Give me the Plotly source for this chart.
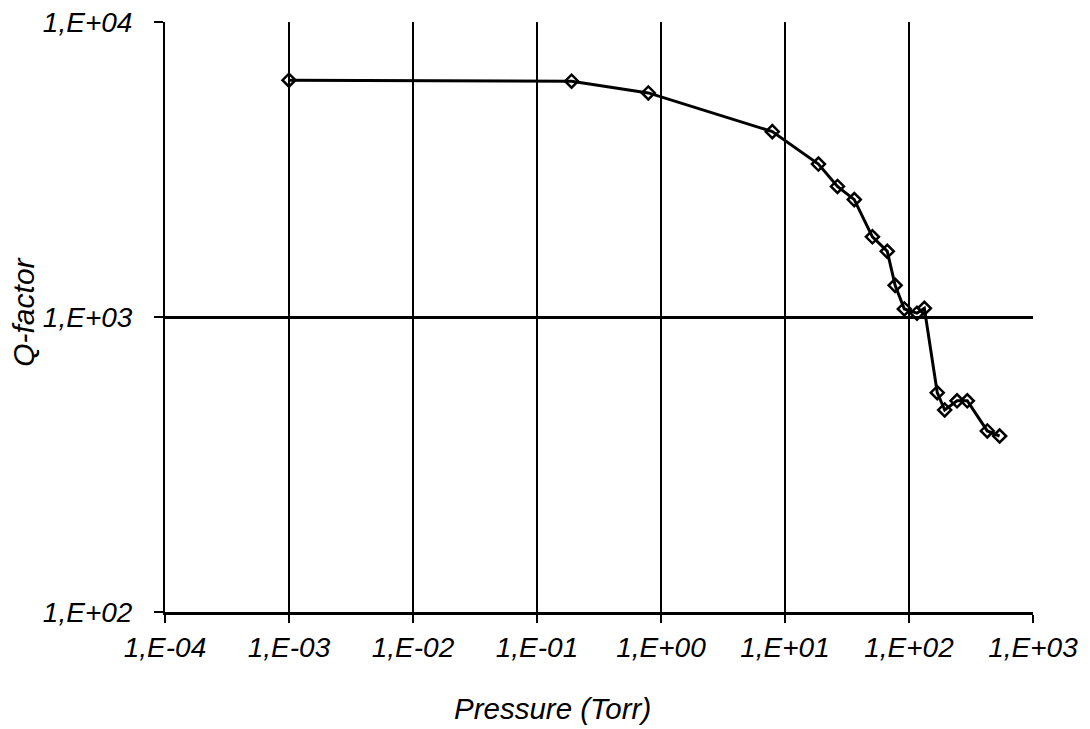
import plotly.graph_objects as go

pressure_torr = [0.001, 0.19, 0.79, 7.9, 18.6, 26.5, 36.2, 50.7, 66.8, 77.3, 91.7,
                 116, 133, 169, 194, 244, 295, 428, 538]
q_factor = [6350, 6300, 5750, 4250, 3300, 2770, 2500, 1870, 1670, 1280, 1065,
            1030, 1070, 554, 484, 520, 520, 411, 395]

x_tickvals = [1e-4, 1e-3, 1e-2, 1e-1, 1e0, 1e1, 1e2, 1e3]
x_ticktext = ["1,E-04", "1,E-03", "1,E-02", "1,E-01", "1,E+00", "1,E+01", "1,E+02", "1,E+03"]
y_tickvals = [1e2, 1e3, 1e4]
y_ticktext = ["1,E+02", "1,E+03", "1,E+04"]

x_title = "Pressure (Torr)"
y_title = "Q-factor"

FONT = "Liberation Sans, Arial, sans-serif"

fig = go.Figure()
fig.add_trace(go.Scatter(
    x=pressure_torr, y=q_factor, mode="lines+markers",
    line=dict(color="black", width=3),
    marker=dict(symbol="diamond-open", size=10, color="black", line=dict(color="black", width=2.5)),
    showlegend=False,
))

fig.update_layout(
    width=1090, height=729,
    margin=dict(l=165, r=57, t=22, b=117),
    paper_bgcolor="white", plot_bgcolor="white",
    font=dict(family=FONT, color="black"),
    xaxis=dict(
        type="log", range=[-4, 3], automargin=False,
        tickvals=x_tickvals, ticktext=x_ticktext,
        tickfont=dict(size=28, family=FONT, style="italic", color="black"),
        ticks="outside", ticklen=8, tickwidth=2, tickcolor="black",
        ticklabelstandoff=0,
        showgrid=True, gridcolor="black", gridwidth=2,
        showline=True, linecolor="black", linewidth=3,
        zeroline=False,
    ),
    yaxis=dict(
        type="log", range=[2, 4], automargin=False,
        tickvals=y_tickvals, ticktext=y_ticktext,
        tickfont=dict(size=28, family=FONT, style="italic", color="black"),
        ticks="outside", ticklen=9, tickwidth=2, tickcolor="black",
        ticklabelstandoff=16,
        showgrid=True, gridcolor="black", gridwidth=2.5,
        showline=True, linecolor="black", linewidth=2,
        zeroline=False,
    ),
    annotations=[
        dict(text=x_title, xref="paper", yref="paper", x=0.446, y=-0.163,
             xanchor="center", yanchor="middle", showarrow=False,
             font=dict(size=29.5, family=FONT, style="italic", color="black")),
        dict(text=y_title, xref="paper", yref="paper", x=-0.163, y=0.508,
             xanchor="center", yanchor="middle", showarrow=False, textangle=-90,
             font=dict(size=30, family=FONT, style="italic", color="black")),
    ],
)

fig.write_html(
    "out.html",
    config={"displayModeBar": False},
    post_script="document.body.style.margin='0';document.body.style.overflow='hidden';",
)
